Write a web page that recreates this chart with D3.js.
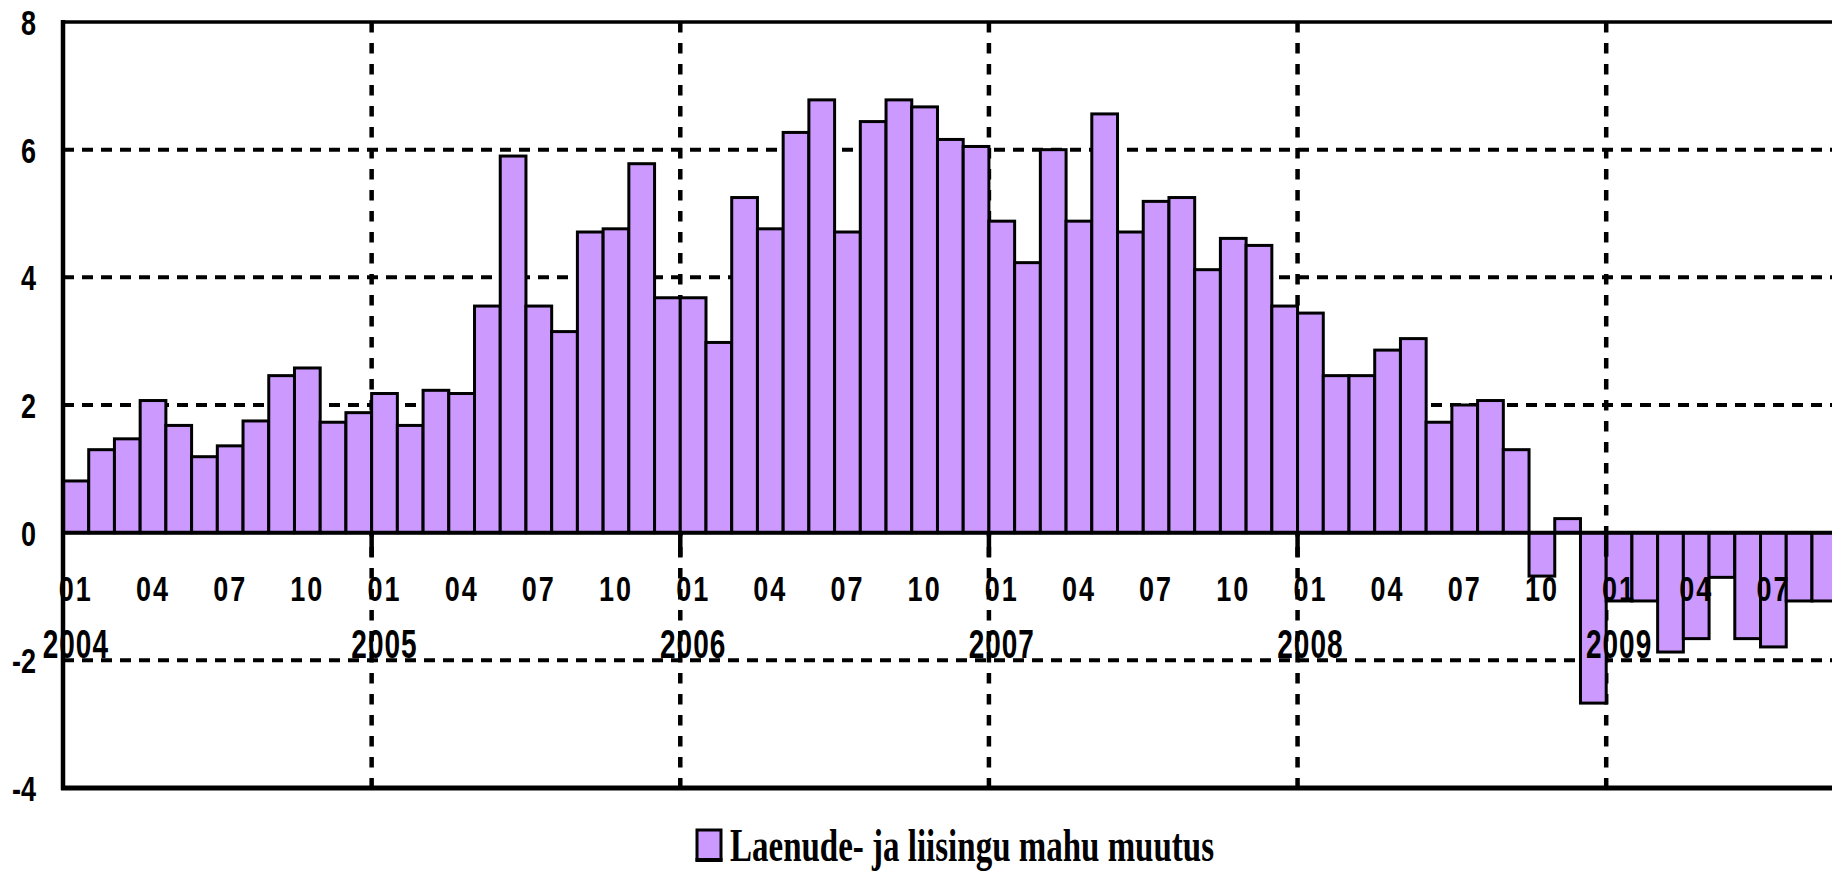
<!DOCTYPE html>
<html>
<head>
<meta charset="utf-8">
<script src="https://cdn.jsdelivr.net/npm/d3@7"></script>
<style>
  html, body { margin: 0; padding: 0; background: #ffffff; }
  svg { display: block; }
  text { font-family: "Liberation Sans", Arial, sans-serif; font-weight: bold; fill: #000; }
</style>
</head>
<body>
<svg id="chart" width="1832" height="871"></svg>
<script>
// ---- data ----
const years = ["2004", "2005", "2006", "2007", "2008", "2009"];
const months = ["01", "02", "03", "04", "05", "06", "07", "08", "09", "10", "11", "12"];
const monthTickLabels = ["01", "04", "07", "10"];
const yTicks = [-4, -2, 0, 2, 4, 6, 8];
const yGrid = [-2, 2, 4, 6];
const values2004 = [0.81, 1.30, 1.47, 2.07, 1.68, 1.19, 1.36, 1.75, 2.46, 2.58, 1.73, 1.88];
const values2005 = [2.18, 1.68, 2.23, 2.18, 3.55, 5.90, 3.55, 3.15, 4.71, 4.76, 5.78, 3.68];
const values2006 = [3.68, 2.98, 5.25, 4.76, 6.27, 6.78, 4.71, 6.44, 6.78, 6.67, 6.16, 6.05];
const values2007 = [4.88, 4.23, 6.00, 4.88, 6.56, 4.71, 5.19, 5.25, 4.12, 4.61, 4.50, 3.55];
const values2008 = [3.44, 2.46, 2.46, 2.86, 3.04, 1.73, 2.00, 2.07, 1.30, -0.68, 0.22, -2.67];
const values2009 = [-1.07, -1.07, -1.87, -1.66, -0.70, -1.66, -1.79, -1.07, -1.07];
const legendLabel = "Laenude- ja liisingu mahu muutus";

const values = [].concat(values2004, values2005, values2006, values2007, values2008, values2009);
const categories = years.flatMap(yr => months.map(m => yr + "-" + m)).slice(0, values.length);
const data = categories.map((c, i) => ({ cat: c, value: values[i] }));

// ---- layout ----
const W = 1832, H = 871;
const plotLeft = 63, plotTop = 22, plotBottom = 788;
const step = 25.72;
const plotRight = plotLeft + step * categories.length;

const svg = d3.select("#chart");

const x = d3.scaleBand().domain(categories).range([plotLeft, plotRight]).paddingInner(0).paddingOuter(0);
const y = d3.scaleLinear().domain([-4, 8]).range([plotBottom, plotTop]);

// horizontal gridlines
svg.append("g").selectAll("line").data(yGrid).join("line")
  .attr("x1", plotLeft).attr("x2", W)
  .attr("y1", d => y(d)).attr("y2", d => y(d))
  .attr("stroke", "#000").attr("stroke-width", 4)
  .attr("stroke-dasharray", "11,8");

// vertical year gridlines (at January band starts, except first)
const yearStarts = categories.filter(c => c.endsWith("-01") && !c.startsWith(years[0]));
svg.append("g").selectAll("line").data(yearStarts).join("line")
  .attr("x1", d => x(d)).attr("x2", d => x(d))
  .attr("y1", plotTop).attr("y2", plotBottom)
  .attr("stroke", "#000").attr("stroke-width", 4.5)
  .attr("stroke-dasharray", "10.5,10.5");

// bars
svg.append("g").selectAll("rect").data(data).join("rect")
  .attr("x", d => x(d.cat))
  .attr("width", x.bandwidth())
  .attr("y", d => Math.min(y(d.value), y(0)))
  .attr("height", d => Math.abs(y(d.value) - y(0)))
  .attr("fill", "#CC99FF")
  .attr("stroke", "#000")
  .attr("stroke-width", 3);

// zero line
svg.append("line")
  .attr("x1", plotLeft).attr("x2", W)
  .attr("y1", y(0)).attr("y2", y(0))
  .attr("stroke", "#000").attr("stroke-width", 4);

// year tick marks below zero line
svg.append("g").selectAll("line").data(yearStarts).join("line")
  .attr("x1", d => x(d)).attr("x2", d => x(d))
  .attr("y1", y(0)).attr("y2", y(0) + 24)
  .attr("stroke", "#000").attr("stroke-width", 4.5);

// frame
svg.append("line").attr("x1", plotLeft).attr("x2", plotLeft).attr("y1", plotTop - 2).attr("y2", plotBottom + 2)
  .attr("stroke", "#000").attr("stroke-width", 4.5);
svg.append("line").attr("x1", plotLeft - 2).attr("x2", W).attr("y1", plotTop).attr("y2", plotTop)
  .attr("stroke", "#000").attr("stroke-width", 3.5);
svg.append("line").attr("x1", plotLeft - 2).attr("x2", W).attr("y1", plotBottom).attr("y2", plotBottom)
  .attr("stroke", "#000").attr("stroke-width", 5);

// y axis labels
const yAxis = svg.append("g").attr("transform", `translate(${plotLeft},0)`)
  .call(d3.axisLeft(y).tickValues(yTicks).tickSize(0).tickPadding(27).tickFormat(d => String(d)));
yAxis.select(".domain").remove();
yAxis.selectAll("text")
  .attr("y", 0).attr("dy", "0.36em")
  .style("font-size", "27px")
  .style("font-family", "'Liberation Sans', Arial, sans-serif")
  .style("font-weight", "bold")
  .attr("transform", "scale(1,1.3)");

// month labels
const monthCats = categories.filter(c => monthTickLabels.includes(c.slice(5)));
const mAxis = svg.append("g").attr("transform", `translate(0,${588.5})`)
  .call(d3.axisBottom(x).tickValues(monthCats).tickSize(0).tickFormat(d => d.slice(5)));
mAxis.select(".domain").remove();
mAxis.selectAll("text")
  .attr("y", 0).attr("dy", "0.36em")
  .style("font-size", "27px")
  .style("letter-spacing", "2px")
  .style("font-family", "'Liberation Sans', Arial, sans-serif")
  .style("font-weight", "bold")
  .attr("transform", "scale(1,1.3)");

// year labels
const janCats = categories.filter(c => c.endsWith("-01"));
const yrAxis = svg.append("g").attr("transform", `translate(0,${643})`)
  .call(d3.axisBottom(x).tickValues(janCats).tickSize(0).tickFormat(d => d.slice(0, 4)));
yrAxis.select(".domain").remove();
yrAxis.selectAll("text")
  .attr("y", 0).attr("dy", "0.36em")
  .style("font-size", "28px")
  .style("letter-spacing", "1px")
  .style("font-family", "'Liberation Sans', Arial, sans-serif")
  .style("font-weight", "bold")
  .attr("transform", "scale(1,1.45)");

// legend
const lg = svg.append("g");
lg.append("rect").attr("x", 697).attr("y", 830).attr("width", 24).attr("height", 30)
  .attr("fill", "#CC99FF").attr("stroke", "#000").attr("stroke-width", 3);
lg.append("line").attr("x1", 695.5).attr("x2", 722.5).attr("y1", 860).attr("y2", 860)
  .attr("stroke", "#000").attr("stroke-width", 4);
lg.append("text").attr("x", 730).attr("y", 861)
  .attr("textLength", 484).attr("lengthAdjust", "spacingAndGlyphs")
  .style("font-family", "'Liberation Serif', 'Times New Roman', serif")
  .style("font-weight", "bold")
  .style("font-size", "46px")
  .text(legendLabel);
</script>
</body>
</html>
